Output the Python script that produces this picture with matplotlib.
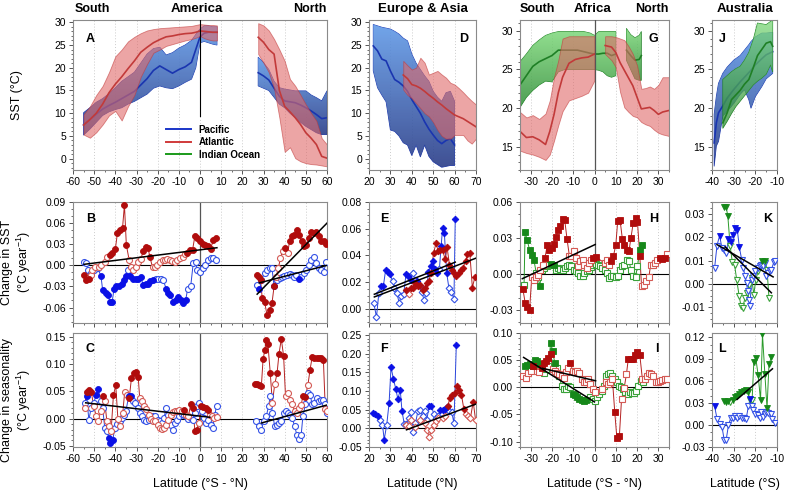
import numpy as np
import matplotlib
matplotlib.use('Agg')
import matplotlib.pyplot as plt
from matplotlib.colors import LinearSegmentedColormap
from matplotlib.patches import PathPatch
from matplotlib.lines import Line2D
from matplotlib.ticker import MultipleLocator, FormatStrFormatter

plt.rcParams['font.family'] = ['Liberation Sans', 'DejaVu Sans']
plt.rcParams['font.size'] = 7.5
plt.rcParams['axes.unicode_minus'] = False
plt.rcParams['mathtext.fontset'] = 'custom'
plt.rcParams['mathtext.rm'] = 'Liberation Sans'
plt.rcParams['mathtext.it'] = 'Liberation Sans:italic'

# ---------------- top row: SST bands (lat, low, mean, high) ----------------
a_pac_s_lat = [-55, -52, -49, -46, -43, -40, -37, -34, -31, -28, -25, -22, -19, -16, -13, -10, -7, -4, -2, 0, 2, 4, 6, 8]
a_pac_s_mid = [7.4, 8.6, 9.8, 10.9, 11.7, 12.4, 13.2, 14, 14.8, 16.2, 17.6, 19.4, 20.4, 19.6, 18.8, 19.6, 20.2, 21.2, 24, 26.8, 27.6, 27.8, 27.8, 27.8]
a_pac_s_lo = [5.2, 6.5, 8, 9.5, 10.3, 10.8, 11.2, 12, 12.6, 13.4, 14.2, 15.5, 16, 15.6, 15.4, 16, 16.8, 17.5, 20, 25.5, 25.8, 25.5, 25.2, 25]
a_pac_s_hi = [10.1, 11.2, 12.4, 13.2, 14.3, 15.6, 17, 18, 19, 21, 23, 24.2, 24.5, 22.8, 23.3, 24.3, 25, 26, 27.3, 28.5, 29.2, 29.2, 29, 29]

a_atl_s_lat = [-55, -52, -49, -46, -43, -40, -37, -34, -31, -28, -25, -22, -19, -16, -13, -10, -7, -4, -2, 0, 2, 4, 6, 8]
a_atl_s_mid = [7.4, 8.6, 10, 12, 14.5, 16.4, 18, 19.8, 21.5, 23.4, 24.5, 25.5, 26.2, 26.8, 27, 27.3, 27.5, 27.6, 27.8, 28.1, 28, 27.9, 27.8, 27.8]
a_atl_s_lo = [5.3, 4.6, 5.8, 7.5, 9.5, 10.5, 8.4, 11.5, 14, 18, 20.8, 23.3, 24, 24.8, 25.2, 25.6, 26, 26.3, 26.6, 27, 26.5, 26.2, 26, 26]
a_atl_s_hi = [9.7, 11.5, 14, 16, 19, 22.5, 24, 25.8, 26.8, 27.6, 28.2, 28.5, 28.7, 28.8, 28.9, 29, 29.1, 29.2, 29.4, 29.6, 29.5, 29.4, 29.4, 29.3]

a_pac_n_lat = [27.5, 30, 32.5, 35, 37.5, 40, 42.5, 45, 47.5, 50, 52.5, 55, 57.5, 60]
a_pac_n_mid = [18.9, 18.2, 17.3, 15.5, 13.7, 12.7, 12.5, 12.3, 11.8, 11.2, 10.5, 9.7, 8.8, 9]
a_pac_n_lo = [16, 15.5, 15, 13.5, 12, 11.2, 10, 9, 8, 7.1, 6.4, 5.7, 5.3, 5.3]
a_pac_n_hi = [22.3, 21.1, 19.6, 17, 15.6, 15.3, 15.1, 14.9, 14.9, 14.9, 14, 13.4, 12.7, 14.9]

a_atl_n_lat = [27.5, 30, 32.5, 35, 37.5, 40, 42.5, 45, 47.5, 50, 52.5, 55, 57.5, 60]
a_atl_n_mid = [26.7, 25.6, 24, 23, 15, 11.5, 10.3, 9, 7.5, 5.7, 4.5, 3.1, 0.5, 0.1]
a_atl_n_lo = [23, 21.1, 19, 15.5, 9, 1.5, 2.5, 0.1, -0.6, -1, -1.2, -1.3, -1.5, -1.7]
a_atl_n_hi = [29.8, 29.3, 28.2, 26.3, 24, 21.5, 17.5, 16, 14, 11.9, 10, 8.3, 4.5, 3.1]

d_asia_lat = [22, 24, 26, 28, 30, 32, 34, 36, 38, 40, 42, 44, 46, 48, 50, 52, 54, 56, 58, 60]
d_asia_mid = [24.8, 23.7, 21.9, 21.5, 19.3, 17.4, 16.8, 16, 14.8, 13, 11.5, 10, 8.1, 6.5, 5.2, 4, 3.3, 4, 4.4, 3]
d_asia_lo = [19.3, 15.6, 14, 12.5, 6.3, 6, 5, 3.5, 3, 0.7, 3, 0.4, 3, 0.5, -0.7, -1.3, -1.9, -1.7, -1.5, -1.5]
d_asia_hi = [29.5, 29.2, 28.9, 28.7, 28.5, 28, 27.4, 26.5, 25.9, 23, 21, 19.6, 18.2, 17, 14.8, 13.5, 12.6, 14.5, 14.8, 12.6]

d_eur_lat = [36, 38, 40, 42, 44, 46, 48, 50, 52, 54, 56, 58, 60, 62, 64, 66, 68, 70]
d_eur_mid = [18.4, 17.6, 16.3, 16, 15.5, 14.8, 14, 13.3, 12.5, 11.8, 11, 10.3, 9.6, 9.2, 8.8, 8.2, 7.6, 7]
d_eur_lo = [15.2, 14, 13.3, 12.2, 11.1, 10, 9.3, 8, 6.3, 5, 4.4, 4.4, 5.2, 5.2, 5.2, 4, 3.3, 4.4]
d_eur_hi = [21.5, 20.5, 19.6, 20, 22.2, 21.1, 18.5, 18.9, 19.3, 18.5, 17.8, 16.7, 16.3, 15.5, 14.6, 13.6, 12.7, 11.9]

g_ind1_lat = [-35, -32, -29, -26, -23, -20, -17, -14, -11, -8, -5, -2, 0, 2, 4, 6, 8, 10]
g_ind1_mid = [23, 24.2, 25.4, 26, 26.4, 26.8, 27.5, 27.5, 27.5, 27.5, 27.3, 27.1, 27, 27, 27.1, 27.1, 26.8, 27]
g_ind1_lo = [20.1, 21.4, 22.3, 23, 23.5, 23.4, 24.7, 25, 25, 25, 25, 25, 25, 24.9, 24.7, 24.2, 24, 24.2]
g_ind1_hi = [26, 27, 28.1, 28.8, 29.4, 29.7, 29.9, 29.9, 29.9, 29.9, 29.9, 29.7, 29.4, 29.9, 29.9, 29.9, 29.9, 29.9]

g_ind2_lat = [15, 17, 19, 21, 22]
g_ind2_mid = [27.5, 26.8, 26.2, 26.3, 26.8]
g_ind2_lo = [26.2, 25, 23.8, 23.6, 23.6]
g_ind2_hi = [30.3, 29.5, 29.1, 29.4, 29.9]

g_atl_s_lat = [-35, -32, -29, -26, -23, -21, -19, -17, -15, -12, -9, -6, -3, 0]
g_atl_s_mid = [17, 16.2, 16.3, 15.9, 15.3, 17, 19.2, 22, 24, 25.8, 26.3, 26.5, 26.6, 27]
g_atl_s_lo = [14.5, 14.2, 14, 13.7, 13.3, 14, 15.8, 17.8, 19.6, 21, 21.3, 21.6, 22, 23.6]
g_atl_s_hi = [19.5, 18.8, 19.1, 18.6, 19.3, 21, 24, 26.2, 29, 29.3, 29.3, 29.3, 29.3, 29.3]

g_atl_n_lat = [5, 8, 10, 12, 14, 16, 18, 20, 22, 24, 26, 28, 30, 32, 35]
g_atl_n_mid = [28.1, 27.9, 27.2, 25.9, 24.9, 23.9, 22.9, 21.4, 19.9, 20, 20.1, 19.7, 19.2, 19.5, 19.7]
g_atl_n_lo = [27, 26.2, 25.3, 22.1, 20.1, 19.5, 19, 18.8, 18.2, 17.9, 17.7, 17.2, 16.8, 16.6, 16.4]
g_atl_n_hi = [29.3, 29.3, 29.2, 29, 28.8, 28, 27, 25.5, 22.5, 22.6, 22.8, 22.5, 23, 24, 24]

j_pac_lat = [-39, -38, -37, -35, -33, -30, -27, -25, -23, -22, -20, -17, -15, -12]
j_pac_mid = [15.5, 18.1, 19.4, 20.3, 21.3, 22.4, 23.4, 24, 24.6, 24.9, 25.6, 26.4, 26.9, 27.3]
j_pac_lo = [12.5, 15.1, 15.7, 19, 19.6, 20.6, 21.8, 22.4, 21.1, 20, 21.5, 22.8, 23.8, 24.5]
j_pac_hi = [19.2, 21.5, 23.2, 24.5, 25.3, 26.2, 26.8, 27.5, 28.2, 28.6, 29.2, 29.7, 29.7, 29.8]

j_ind_lat = [-35, -33, -31, -29, -27, -25, -23, -21, -19, -17, -15, -13, -12]
j_ind_mid = [18.1, 19.4, 21.1, 21.7, 22.3, 23.1, 23.7, 25.2, 26.8, 27.6, 28.4, 28.6, 28]
j_ind_lo = [17.4, 18.3, 19.3, 20.2, 20.9, 21.6, 22.3, 23, 23.5, 23.9, 24.4, 25.6, 24.7]
j_ind_hi = [23.7, 24.2, 24.7, 25.1, 25.4, 26.2, 27.2, 28.8, 31, 30.9, 30.8, 31.2, 31.4]

# ---------------- middle row: change in SST (lat, value, significant) ----------------
b_atl_s_lat = [-54.8, -54, -52.4, -51.6, -50.8, -49.5, -47.9, -46.8, -45, -44, -42.6, -41.4, -40, -39, -38, -36.6, -35.7, -34.8, -33.5, -32.7, -31.6, -30.3, -29.2, -28, -26.8, -25.6, -24.5, -23.7, -22.4, -21.3, -20.2, -19, -17.7, -16.6, -15.5, -14.2, -13, -11.8, -10.7, -9.5, -8.2, -7.1, -6, -4.7, -3.5, -2.4, -1.3, 0, 1.3, 2.5, 3.8, 5, 6.3, 7.6]
b_atl_s_val = [-0.014, -0.021, -0.020, -0.014, -0.007, -0.002, -0.003, 0.000, 0.005, 0.012, 0.015, 0.017, 0.023, 0.046, 0.050, 0.053, 0.086, 0.029, 0.008, -0.002, -0.006, -0.002, 0.005, 0.009, 0.020, 0.026, 0.024, 0.012, -0.003, -0.002, 0.001, 0.005, 0.007, 0.008, 0.009, 0.008, 0.006, 0.005, 0.008, 0.010, 0.012, 0.016, 0.018, 0.022, 0.022, 0.042, 0.039, 0.034, 0.030, 0.029, 0.027, 0.023, 0.036, 0.039]
b_atl_s_sig = [1, 1, 1, 0, 0, 0, 0, 0, 0, 0, 1, 1, 1, 1, 1, 1, 1, 1, 0, 0, 0, 0, 0, 0, 1, 1, 1, 1, 0, 0, 0, 0, 0, 0, 0, 0, 0, 0, 0, 0, 0, 0, 1, 1, 1, 1, 1, 1, 1, 1, 1, 1, 1, 1]

b_pac_s_lat = [-55, -54, -52.7, -51.6, -50, -48.4, -46.8, -46, -44.5, -43.4, -42.6, -41.5, -40.6, -39.5, -38.2, -37, -36, -35, -34, -32.9, -31.6, -30.3, -29.2, -28, -26.8, -25.6, -24.5, -23.4, -22, -20.8, -19.7, -18.6, -17.4, -16, -15, -14, -12.6, -11.4, -10.3, -9.2, -7.9, -6.8, -5.8, -4.4, -3.2, -2, -1.3, 0, 1.3, 2.5, 3.8, 5, 6.3, 7.6]
b_pac_s_val = [0.005, 0.004, -0.007, -0.011, -0.007, -0.004, -0.015, -0.035, -0.040, -0.042, -0.052, -0.052, -0.033, -0.030, -0.029, -0.026, -0.021, -0.015, -0.007, -0.015, -0.019, -0.019, -0.019, -0.017, -0.028, -0.027, -0.026, -0.023, -0.021, -0.019, -0.019, -0.020, -0.021, -0.033, -0.040, -0.042, -0.052, -0.049, -0.045, -0.049, -0.054, -0.050, -0.033, -0.030, 0.003, 0.005, -0.007, -0.009, -0.004, 0.001, 0.008, 0.010, 0.011, 0.008]
b_pac_s_sig = [0, 0, 0, 0, 0, 0, 1, 1, 1, 1, 1, 1, 1, 1, 1, 1, 1, 1, 0, 1, 1, 1, 1, 1, 1, 1, 1, 1, 1, 0, 0, 0, 0, 1, 1, 1, 1, 1, 1, 1, 1, 1, 0, 0, 0, 0, 0, 0, 0, 0, 0, 0, 0, 0]

b_atl_n_lat = [26.7, 27.8, 28.6, 29.4, 30.5, 31.7, 33, 34, 35, 36, 37, 38, 39, 40.3, 41.4, 42.3, 43.4, 44.5, 45.8, 47, 48, 49.3, 50.2, 51.3, 52.4, 53.7, 55, 56, 57, 58.4, 59.7]
b_atl_n_val = [-0.014, -0.016, -0.021, -0.047, -0.052, -0.071, -0.064, -0.054, -0.030, -0.016, -0.004, 0.010, 0.020, 0.024, 0.017, 0.034, 0.041, 0.043, 0.050, 0.043, 0.034, 0.027, 0.029, 0.039, 0.048, 0.046, 0.048, 0.041, 0.035, 0.034, 0.031]
b_atl_n_sig = [1, 1, 1, 1, 1, 1, 1, 1, 1, 0, 0, 0, 0, 1, 0, 1, 1, 1, 1, 1, 1, 1, 1, 1, 1, 1, 1, 1, 1, 1, 1]

b_pac_n_lat = [27, 28, 29, 30.5, 31.7, 33, 34, 35, 36.3, 37.6, 38.7, 39.8, 41, 42.3, 43.4, 44.5, 45.5, 46.6, 47.7, 49, 50.2, 51.3, 52.4, 53.7, 55, 56, 57, 58.4, 59.7]
b_pac_n_val = [-0.028, -0.033, -0.021, -0.011, -0.007, -0.004, -0.004, -0.030, -0.021, -0.018, -0.017, -0.015, -0.014, -0.012, -0.014, -0.016, -0.014, -0.019, -0.016, -0.011, -0.007, 0.000, 0.008, 0.012, 0.003, -0.004, -0.007, -0.009, 0.005]
b_pac_n_sig = [0, 1, 0, 0, 0, 0, 0, 1, 0, 0, 0, 0, 0, 0, 0, 0, 0, 1, 0, 0, 0, 0, 0, 0, 0, 0, 0, 0, 0]

b_trend_s_lat, b_trend_s_val = [-54.8, 8], [0.0014, 0.025]
b_trend_na_lat, b_trend_na_val = [27, 60], [-0.041, 0.060]
b_trend_np_lat, b_trend_np_val = [28, 60], [-0.025, 0.0]

e_asia_lat = [22.2, 23.5, 24.6, 25.6, 26.7, 27.8, 28.7, 29.8, 31, 31.9, 33, 34.1, 35, 36.2, 37.3, 38.3, 39.4, 40.5, 41.4, 42.5, 43.7, 44.6, 45.7, 46.8, 47.8, 48.9, 49.7, 50.8, 51.7, 52.9, 53.7, 54.4, 55.2, 56.3, 57.3, 58.4, 59.7, 60.3]
e_asia_val = [0.0045, -0.006, 0.012, 0.017, 0.017, 0.0295, 0.028, 0.026, 0.021, 0.016, 0.012, 0.0045, 0.0095, 0.011, 0.026, 0.025, 0.022, 0.027, 0.022, 0.021, 0.017, 0.013, 0.007, 0.012, 0.028, 0.032, 0.036, 0.030, 0.027, 0.030, 0.047, 0.0605, 0.057, 0.027, 0.016, 0.013, 0.0075, 0.0673]
e_asia_sig = [0, 0, 0, 1, 1, 1, 1, 1, 0, 0, 0, 0, 0, 0, 1, 1, 1, 0, 0, 1, 0, 0, 0, 0, 1, 1, 1, 1, 1, 0, 1, 1, 1, 1, 0, 0, 0, 1]

e_eur_lat = [37.5, 38.6, 39.7, 40.6, 41.7, 42.9, 43.8, 45, 46, 47, 48, 49, 50.2, 51.3, 52.4, 53.3, 54.4, 55.6, 56.5, 57.6, 58.7, 59.7, 60.8, 61.9, 62.9, 64, 65.1, 66, 67.1, 68.3, 69.5]
e_eur_val = [0.0145, 0.011, 0.016, 0.016, 0.0195, 0.017, 0.018, 0.0145, 0.016, 0.0195, 0.021, 0.027, 0.042, 0.049, 0.043, 0.044, 0.044, 0.037, 0.046, 0.033, 0.0295, 0.027, 0.025, 0.027, 0.0295, 0.031, 0.036, 0.041, 0.042, 0.016, 0.024]
e_eur_sig = [1, 0, 1, 1, 1, 1, 1, 1, 1, 1, 1, 1, 1, 1, 1, 1, 1, 1, 1, 1, 1, 1, 1, 1, 1, 1, 1, 1, 1, 1, 1]

e_trend_a_lat, e_trend_a_val = [22.5, 60.3], [0.011, 0.035]
e_trend_e_lat, e_trend_e_val = [22.5, 70], [0.009, 0.038]

h_ind_lat = [-33.1, -32.6, -31.6, -30.5, -29.5, -28.5, -27.4, -26.6, -25.7, -24.6, -23.5, -22.5, -21.5, -20.4, -19.1, -18, -17.1, -16, -14.9, -14, -12.9, -11.8, -10.9, -9.8, -8.7, -7.8, -6.7, -5.6, -4.7, -3.6, -2.5, -1.6, -0.5, 0.6, 1.6, 2.6, 3.7, 4.7, 5.8, 6.8, 7.8, 8.9, 10, 10.9, 12, 13.1, 14, 15.1, 16.2, 17.1, 18.2, 19.3, 20.2, 21.3, 22.4]
h_ind_val = [-0.0095, 0.035, 0.028, 0.020, 0.016, 0.012, 0.001, -0.003, -0.0097, 0.0036, 0.005, 0.0064, 0.007, 0.0086, 0.0078, 0.0036, 0.005, 0.0042, 0.0036, 0.005, 0.0064, 0.0078, 0.0064, 0.0036, 0.0022, 0.0008, -0.0014, -0.002, 0.0008, 0.0022, 0.0036, 0.0058, 0.0078, 0.0086, 0.0078, 0.0064, 0.005, 0.0036, 0.0008, -0.0033, -0.002, -0.0014, -0.0025, -0.0014, 0.0036, 0.0064, 0.0078, 0.012, 0.0106, 0.0036, -0.002, -0.0025, 0.0064, 0.020, 0.024]
h_ind_sig = [0, 1, 1, 1, 1, 1, 0, 0, 1, 0, 0, 0, 0, 1, 1, 0, 0, 0, 0, 0, 0, 0, 0, 0, 0, 0, 0, 0, 0, 0, 0, 0, 0, 0, 0, 0, 0, 0, 0, 0, 0, 0, 0, 0, 0, 0, 0, 0, 0, 0, 0, 0, 0, 1, 1]

h_atl_lat = [-33.6, -32.6, -31.6, -30.5, -29.5, -28.5, -27.4, -26.4, -25.4, -24.3, -23.3, -22.2, -21.2, -20.2, -19.1, -18, -17.1, -16, -14.9, -14, -12.9, -11.8, -10.9, -9.8, -8.7, -7.8, -6.7, -5.6, -4.7, -3.6, -2.5, -1.6, -0.5, 0.6, 4.7, 5.8, 6.8, 7.8, 8.9, 10, 10.9, 12, 13.1, 14, 15.1, 16.2, 17.1, 18.2, 19.3, 20.2, 21.3, 22.1, 23.3, 24.4, 25.5, 26.4, 27.5, 28.6, 29.5, 30.6, 31.7, 33, 34.2]
h_atl_val = [-0.013, -0.024, -0.028, -0.030, -0.003, -0.0047, -0.003, -0.0006, 0.0036, 0.0078, 0.013, 0.024, 0.020, 0.022, 0.025, 0.031, 0.037, 0.040, 0.046, 0.045, 0.029, 0.015, 0.015, 0.019, 0.013, 0.0064, 0.0106, 0.012, 0.0078, 0.005, 0.0092, 0.012, 0.013, 0.014, 0.0092, 0.0114, 0.007, 0.0106, 0.015, 0.024, 0.044, 0.045, 0.029, 0.024, 0.020, 0.019, 0.030, 0.0425, 0.047, 0.043, 0.0147, -0.010, -0.009, -0.006, -0.003, 0.0078, 0.0078, 0.0092, 0.0114, 0.013, 0.0125, 0.013, 0.017]
h_atl_sig = [1, 1, 1, 1, 0, 0, 0, 0, 0, 0, 1, 1, 1, 1, 1, 1, 1, 1, 1, 1, 1, 0, 0, 0, 0, 0, 0, 0, 0, 0, 0, 0, 1, 1, 0, 0, 0, 1, 1, 1, 1, 1, 1, 1, 1, 1, 1, 1, 1, 1, 1, 0, 0, 0, 0, 0, 0, 0, 0, 1, 1, 1, 0]

h_trend_lat, h_trend_val = [-33.9, 0.3], [-0.004, 0.0245]

k_pac_lat = [-38.8, -37.7, -36.5, -35.4, -34.4, -33.5, -32.4, -31.3, -30.4, -29.3, -28.3, -27.4, -26.3, -25.5, -24.8, -24, -23.6, -23, -22.5, -21.7, -21, -20, -19, -17.9, -17.2, -16.4, -15.6, -14.9, -14.1, -13.3, -12.6, -11.5, -10.8]
k_pac_val = [0.0068, 0.0164, 0.0206, 0.0154, 0.0147, 0.0132, 0.019, 0.018, 0.021, 0.024, 0.023, 0.0158, 0.0104, 0.0068, 0.0033, 0.0004, -0.003, -0.0067, -0.0095, 0.0018, 0.0033, 0.0054, 0.0068, 0.0075, 0.0082, 0.0075, 0.0089, 0.0033, 0.0047, 0.0054, 0.0061, 0.0092, 0.010]
k_pac_sig = [0, 0, 1, 0, 0, 0, 1, 1, 1, 1, 1, 1, 0, 0, 0, 0, 0, 0, 0, 0, 0, 0, 0, 0, 0, 0, 0, 0, 0, 0, 0, 0, 0]

k_ind_lat = [-34.4, -33.5, -32.7, -31.6, -30.6, -29.6, -28.6, -27.5, -26.6, -25.8, -24.8, -23.7, -22.8, -21.7, -20.7, -19.8, -18.7, -17.6, -16.7, -15.6, -14.6, -13.7]
k_ind_val = [0.033, 0.033, 0.029, 0.016, 0.0092, 0.0082, 0.0018, -0.005, -0.0095, -0.0102, -0.006, -0.0038, -0.0003, 0.0025, -0.0046, 0.0018, 0.0054, 0.0075, 0.010, 0.010, 0.0061, -0.006]
k_ind_sig = [1, 1, 1, 0, 0, 0, 0, 0, 0, 0, 0, 0, 0, 0, 0, 0, 0, 0, 1, 1, 0, 0]

k_trend_p_lat, k_trend_p_val = [-37.7, -11.8], [0.0168, 0.003]
k_trend_i_lat, k_trend_i_val = [-33.9, -12.6], [0.0158, -0.0038]

# ---------------- bottom row: change in seasonality ----------------
c_atl_s_lat = [-54.5, -53.6, -52.5, -51.4, -50.2, -49, -48, -47, -46, -45, -44, -43, -42, -40.9, -39.8, -38.8, -37.6, -36.5, -35.6, -34.5, -33.4, -32.4, -31.3, -30.2, -29.2, -28.5, -27.4, -26.3, -25.4, -24.3, -23.2, -22.3, -21.2, -20, -19, -18, -17, -16, -14.9, -13.8, -12.9, -11.8, -10.7, -9.7, -8.6, -7.5, -6.6, -5.5, -4.4, -3.4, -2.4, -1.6, -0.5, 0.5, 1.6, 2.7, 3.6, 4.7, 5.8, 6.7, 7.8]
c_atl_s_val = [0.020, 0.048, 0.052, 0.049, 0.023, 0.004, -0.005, 0.014, 0.041, 0.032, -0.005, -0.014, -0.023, 0.043, 0.061, 0.000, -0.014, 0.010, 0.048, 0.044, 0.038, 0.074, 0.083, 0.086, 0.077, 0.038, 0.032, 0.023, 0.017, 0.007, 0.000, -0.004, -0.005, -0.011, -0.017, -0.019, -0.017, -0.011, -0.002, 0.007, 0.012, 0.014, 0.014, 0.015, 0.014, 0.015, 0.007, 0.004, 0.026, 0.020, -0.023, -0.020, -0.008, 0.023, 0.022, 0.020, 0.015, 0.007, 0.004, 0.001, 0.003]
c_atl_s_sig = [0, 1, 1, 1, 0, 0, 0, 0, 1, 0, 0, 0, 0, 1, 1, 0, 0, 0, 0, 0, 1, 1, 1, 1, 1, 0, 0, 0, 0, 0, 0, 0, 0, 0, 0, 0, 0, 0, 0, 0, 0, 0, 0, 0, 0, 1, 0, 0, 1, 1, 1, 1, 0, 1, 1, 1, 1, 0, 0, 0, 0]

c_pac_s_lat = [-54.4, -53.6, -52.5, -51.4, -50.2, -49, -48, -47, -46, -45, -44, -43.1, -42.3, -41.2, -40.3, -39.2, -38, -37, -36, -35, -33.7, -32.6, -31.7, -30.6, -29.5, -28.5, -27.4, -26.3, -25.4, -24.3, -23.2, -22.3, -21.2, -20, -19, -18, -17, -16, -14.9, -13.8, -12.9, -11.8, -10.7, -9.7, -8.6, -7.5, -6.6, -5.5, -4.4, -3.4, -2.4, -1.3, -0.3, 0.8, 1.9, 2.8, 3.9, 5, 6, 7, 7.8]
c_pac_s_val = [0.029, 0.041, -0.002, 0.020, 0.029, 0.044, 0.054, 0.032, 0.020, -0.017, -0.023, -0.035, -0.045, -0.040, -0.017, -0.010, -0.005, 0.001, 0.007, 0.014, 0.041, 0.041, 0.032, 0.029, 0.020, 0.010, 0.004, -0.002, -0.005, -0.002, 0.001, 0.004, 0.004, -0.002, -0.005, -0.008, 0.001, 0.020, 0.007, -0.011, -0.020, -0.008, -0.002, 0.004, 0.009, 0.007, 0.004, 0.000, 0.001, -0.002, 0.010, 0.023, 0.029, 0.014, 0.001, -0.008, -0.002, -0.011, -0.017, 0.007, 0.023]
c_pac_s_sig = [0, 1, 0, 0, 0, 1, 1, 0, 0, 0, 0, 1, 1, 1, 0, 0, 0, 0, 0, 0, 1, 1, 0, 0, 0, 0, 0, 0, 0, 0, 0, 0, 0, 0, 0, 0, 0, 0, 0, 0, 0, 0, 0, 0, 0, 0, 0, 0, 0, 0, 0, 0, 0, 0, 0, 0, 0, 0, 0, 0, 0]

c_atl_n_lat = [25.9, 27, 27.9, 29, 29.8, 30.6, 31.3, 32.1, 33.2, 34.2, 35.3, 36.4, 37.3, 38.4, 39.5, 40.4, 41.5, 42.6, 43.6, 44.7, 45.8, 46.7, 47.8, 48.6, 49.8, 51, 52, 53, 54, 55.2, 56.1, 57.2, 58.3, 59.2, 59.9]
c_atl_n_val = [0.064, 0.063, 0.061, 0.060, 0.109, 0.125, 0.145, 0.136, 0.083, 0.029, 0.063, 0.083, 0.118, 0.146, 0.115, 0.041, 0.047, 0.035, 0.026, 0.014, 0.010, 0.020, 0.025, 0.041, 0.040, 0.062, 0.090, 0.113, 0.112, 0.112, 0.112, 0.111, 0.107, 0.017, 0.014]
c_atl_n_sig = [1, 1, 1, 1, 1, 1, 1, 1, 1, 0, 0, 1, 1, 1, 1, 0, 0, 0, 0, 0, 0, 0, 0, 1, 1, 0, 1, 1, 1, 1, 1, 1, 1, 0, 0]

c_pac_n_lat = [26.6, 27.9, 29, 30.1, 31.3, 32.4, 33.2, 34.2, 35.3, 36.4, 37.3, 38.4, 39.5, 40.4, 41.5, 42.6, 43.6, 44.7, 45.8, 46.7, 47.8, 48.6, 49.8, 51, 52, 53, 54, 55.2, 56.1, 57.2, 58.3, 59.2, 59.9]
c_pac_n_val = [-0.005, -0.014, -0.020, -0.005, 0.004, 0.023, 0.041, 0.010, -0.014, -0.011, -0.008, -0.005, 0.010, 0.014, 0.010, 0.007, 0.001, -0.014, -0.030, -0.037, -0.030, 0.004, 0.026, 0.047, 0.044, 0.026, 0.029, 0.038, 0.032, 0.035, 0.035, 0.026, 0.010]
c_pac_n_sig = [0] * 33

c_trend_s_lat, c_trend_s_val = [-54, 4.7], [0.029, 0.0025]
c_trend_n_lat, c_trend_n_val = [29, 60], [-0.008, 0.025]

f_asia_lat = [21.9, 23, 24, 25.1, 26.3, 27.1, 28.3, 29.4, 30.3, 31.4, 32.5, 33.5, 34.6, 35.4, 36.5, 37.5, 38.6, 39.7, 40.6, 41.7, 42.9, 43.8, 45, 46, 47, 48.1, 49.2, 50.2, 51.3, 52.4, 53.3, 54.4, 55.6, 56.5, 57.6, 58.7, 59.7, 60.8]
f_asia_val = [0.041, 0.039, 0.034, 0.023, 0.009, -0.030, 0.010, 0.069, 0.164, 0.132, 0.106, 0.078, 0.103, 0.047, 0.011, 0.011, 0.028, 0.043, -0.009, 0.013, 0.047, 0.050, 0.034, 0.045, 0.022, 0.060, 0.060, 0.039, 0.028, 0.032, 0.049, 0.049, 0.052, 0.058, 0.047, 0.043, 0.013, 0.224]
f_asia_sig = [1, 1, 1, 0, 0, 1, 0, 1, 1, 1, 1, 1, 1, 1, 0, 0, 0, 0, 0, 0, 0, 0, 0, 0, 0, 1, 1, 0, 0, 0, 1, 1, 1, 1, 0, 0, 0, 1]

f_eur_lat = [37.5, 38.6, 39.7, 41.7, 43.8, 46, 47, 48.1, 49.2, 50.2, 51.3, 52.4, 54.4, 55.6, 56.8, 57.9, 58.9, 60, 61.1, 62, 63.2, 64.3, 65.2, 66.3, 67.4, 68.7, 69.8]
f_eur_val = [0.010, 0.006, 0.022, 0.004, 0.022, 0.013, -0.004, -0.023, -0.004, 0.009, 0.020, 0.028, 0.028, 0.034, 0.060, 0.082, 0.090, 0.095, 0.112, 0.103, 0.090, 0.052, 0.039, 0.032, 0.028, 0.071, 0.022]
f_eur_sig = [0, 0, 0, 0, 0, 0, 0, 0, 0, 0, 0, 0, 0, 0, 1, 1, 1, 1, 1, 1, 1, 1, 0, 0, 0, 1, 0]

f_trend_lat, f_trend_val = [37.5, 70], [-0.004, 0.065]

i_ind_lat = [-32.6, -31.5, -30.3, -29, -27.9, -26.8, -25.9, -24.8, -23.7, -22.8, -21.7, -20.6, -19.7, -18.6, -17.5, -16.6, -15.5, -14.4, -13.5, -12.4, -11.3, -10.3, -9.2, -8.1, -7.2, -6.1, -5, -4.1, -3, -1.9, -0.9, 0.2, 1.2, 2.2, 3.3, 4.3, 5.3, 6.4, 7.5, 8.4, 9.5, 10.5, 11.4, 12.5, 13.6, 14.5, 15.6, 16.7, 17.6, 18.7, 19.7, 20.6, 21.7, 22.7]
i_ind_val = [0.039, 0.041, 0.042, 0.039, 0.051, 0.048, 0.042, 0.030, 0.027, 0.033, 0.039, 0.082, 0.066, 0.044, 0.036, 0.021, 0.003, -0.004, -0.003, 0.003, 0.000, -0.012, -0.015, -0.018, -0.021, -0.024, -0.025, -0.024, -0.021, -0.018, -0.021, -0.026, -0.018, -0.012, -0.006, 0.003, 0.021, 0.025, 0.026, 0.021, 0.016, 0.009, 0.003, 0.000, -0.003, -0.009, -0.012, -0.008, -0.011, -0.010, -0.006, 0.003, 0.012, 0.009]
i_ind_sig = [1, 1, 1, 1, 1, 1, 1, 0, 0, 0, 0, 1, 1, 1, 0, 0, 0, 0, 0, 0, 0, 1, 1, 1, 1, 1, 1, 1, 0, 0, 0, 0, 0, 0, 0, 0, 0, 0, 0, 0, 0, 0, 0, 0, 0, 0, 0, 0, 0, 0, 0, 0, 0, 0]

i_atl_lat = [-33.4, -32.2, -31.1, -30, -29, -27.9, -26.8, -25.9, -24.8, -23.7, -22.8, -21.7, -20.6, -19.7, -18.6, -17.5, -16.6, -15.5, -14.4, -13.5, -12.4, -11.3, -10.3, -9.2, -8.1, -7.2, -6.1, -5, -4.1, -3, -1.9, -0.9, 0.2, 3.3, 5.3, 6.4, 7.5, 8.4, 9.5, 10.5, 11.7, 12.7, 13.9, 15, 15.9, 17, 18, 19.2, 20.2, 21.3, 22.5, 23.6, 24.5, 25.6, 26.7, 27.6, 28.7, 29.8, 30.7, 31.8, 32.9, 33.9]
i_atl_val = [0.021, 0.018, 0.027, 0.030, 0.039, 0.039, 0.030, 0.028, 0.036, 0.045, 0.048, 0.054, 0.062, 0.033, 0.030, 0.027, 0.024, 0.021, 0.018, 0.028, 0.036, 0.045, 0.030, 0.028, 0.030, 0.027, 0.015, 0.010, 0.009, 0.015, 0.006, -0.003, -0.009, -0.003, 0.009, 0.006, 0.009, 0.016, -0.045, -0.093, -0.089, -0.022, -0.002, 0.024, 0.053, 0.052, 0.053, 0.060, 0.065, 0.059, 0.015, 0.015, 0.021, 0.027, 0.024, 0.020, 0.009, 0.009, 0.012, 0.014, 0.015, 0.016]
i_atl_sig = [0, 0, 0, 0, 1, 0, 0, 0, 1, 1, 1, 1, 1, 0, 0, 0, 0, 0, 0, 0, 0, 1, 0, 0, 0, 0, 0, 0, 0, 0, 0, 0, 0, 0, 0, 0, 0, 0, 1, 1, 1, 0, 0, 0, 1, 1, 1, 1, 1, 1, 0, 0, 0, 0, 0, 0, 0, 0, 0, 0, 0, 0]

i_trend_i_lat, i_trend_i_val = [-33.3, 0], [0.055, -0.027]
i_trend_a_lat, i_trend_a_val = [-24.5, 0.5], [0.035, 0.012]

l_pac_lat = [-38.8, -37.7, -36.5, -35.4, -34.4, -33.5, -32.4, -31.3, -30.4, -29.3, -28.3, -27.4, -26.3, -25.2, -24.3, -23.2, -22.4, -21.7, -21, -20, -19, -17.9, -17.2, -16.4, -15.6, -14.9, -14.1, -13, -12.1, -11.1]
l_pac_val = [0.0257, 0.009, 0.0014, -0.002, -0.020, -0.021, 0.000, 0.010, 0.010, 0.012, 0.010, 0.012, 0.010, 0.010, 0.0077, 0.0257, 0.036, 0.0257, 0.020, 0.0158, 0.0135, 0.010, 0.018, 0.011, 0.0158, 0.018, 0.0167, 0.0158, 0.009, 0.0023]
l_pac_sig = [1, 0, 0, 0, 0, 0, 0, 0, 0, 0, 0, 0, 0, 0, 0, 0, 1, 0, 0, 0, 0, 0, 0, 0, 0, 0, 0, 0, 0, 0]

l_ind_lat = [-34.6, -33.5, -32.6, -31.5, -30.5, -29.5, -28.5, -27.4, -26.5, -25.4, -24.3, -23.4, -22.4, -21.5, -20.7, -19.8, -18.7, -17.6, -16.7, -15.6, -14.6, -13.7, -12.6]
l_ind_val = [0.033, 0.032, 0.033, 0.0316, 0.034, 0.038, 0.040, 0.043, 0.045, 0.047, 0.048, 0.045, 0.034, 0.034, 0.086, 0.092, 0.068, 0.034, 0.124, 0.070, 0.023, 0.083, 0.093]
l_ind_sig = [1, 1, 1, 0, 1, 1, 1, 1, 1, 1, 1, 1, 0, 0, 1, 1, 1, 1, 1, 1, 1, 1, 1]

l_trend_lat, l_trend_val = [-28.5, -12.1], [0.035, 0.077]

# ---------------- styling ----------------
RED = dict(dark='#b00c0c', light='#d45a55', line='#b52222')
BLUE = dict(dark='#0a10e6', light='#3552e6', line='#2a45dc')
GREEN = dict(dark='#16881a', light='#3aa23a', line='#2a9a2a')

fig = plt.figure(figsize=(7.88, 4.96), dpi=100)


def mk(x0, w, y0, y1):
    return fig.add_axes([x0 / 788, 1 - y1 / 496, w / 788, (y1 - y0) / 496])


cols = [(73, 254), (369, 107), (520, 149), (712, 65)]
rows = [(20, 170), (202, 323), (333, 447)]
axs = [[mk(c[0], c[1], r[0], r[1]) for c in cols] for r in rows]

xlims = [(-60, 60), (20, 70), (-35, 35), (-40, -10)]
xmaj = [np.arange(-60, 61, 10), np.arange(20, 71, 10), np.arange(-30, 31, 10), np.arange(-40, -9, 10)]

for ri, row in enumerate(axs):
    for ci, ax in enumerate(row):
        for s in ax.spines.values():
            s.set_color('#8a8a8a')
            s.set_linewidth(0.8)
        ax.set_xlim(*xlims[ci])
        ax.set_xticks(xmaj[ci])
        ax.xaxis.set_minor_locator(MultipleLocator(5))
        ax.tick_params(which='major', direction='out', length=3, width=0.7, color='#555555', labelsize=7.5, pad=2)
        ax.tick_params(which='minor', direction='out', length=1.6, width=0.6, color='#555555')
        ax.grid(axis='x', which='major', ls=(0, (1, 2)), color='#cccccc', lw=0.7)
        ax.set_axisbelow(True)
        if ri == 1:
            ax.tick_params(labelbottom=False)


def band(ax, lat, lo, hi, mid, cols, line, alpha, z):
    lat = np.asarray(lat, float)
    if len(cols) == 1:
        ax.fill_between(lat, lo, hi, facecolor=cols[0], edgecolor=line, lw=0.6, alpha=alpha, zorder=z)
    else:
        poly = ax.fill_between(lat, lo, hi, facecolor='none', edgecolor=line, lw=0.6, zorder=z)
        cmap = LinearSegmentedColormap.from_list('g', cols)
        patch = PathPatch(poly.get_paths()[0], transform=ax.transData, facecolor='none', edgecolor='none')
        im = ax.imshow(np.linspace(0, 1, 128).reshape(-1, 1), cmap=cmap, origin='lower', aspect='auto',
                       extent=[lat.min(), lat.max(), min(lo), max(hi)], alpha=alpha, zorder=z)
        im.set_clip_path(patch)
    ax.plot(lat, mid, color=line, lw=1.2, zorder=z + 0.1)


def series(ax, lat, val, sig, marker, c, ms):
    lat = np.asarray(lat, float)
    val = np.asarray(val, float)
    sig = np.asarray(sig, bool)
    ax.plot(lat, val, color=c['line'], lw=0.7, zorder=3)
    ax.plot(lat[~sig], val[~sig], ls='none', marker=marker, ms=ms, mfc='white', mec=c['light'], mew=0.8, zorder=4)
    ax.plot(lat[sig], val[sig], ls='none', marker=marker, ms=ms, mfc=c['dark'], mec=c['dark'], mew=0.6, zorder=5)


def trend(ax, x, y):
    ax.plot(x, y, color='black', lw=1.1, zorder=6)


BLUE_G = ['#2a3d88', '#629be8']
GREEN_G = ['#2f8e36', '#7dd87a']
RED_F = ['#e06a6a']

# --- A
ax = axs[0][0]
band(ax, a_pac_s_lat, a_pac_s_lo, a_pac_s_hi, a_pac_s_mid, BLUE_G, '#1a35b0', 0.9, 1)
band(ax, a_pac_n_lat, a_pac_n_lo, a_pac_n_hi, a_pac_n_mid, BLUE_G, '#1a35b0', 0.9, 1)
band(ax, a_atl_s_lat, a_atl_s_lo, a_atl_s_hi, a_atl_s_mid, RED_F, '#c23a3a', 0.6, 2)
band(ax, a_atl_n_lat, a_atl_n_lo, a_atl_n_hi, a_atl_n_mid, RED_F, '#c23a3a', 0.6, 2)
ylo, yhi = -2.5, 30.5
ax.set_ylim(ylo, yhi)
ax.axvline(0, ymin=(9.4 - ylo) / (yhi - ylo), ymax=1, color='black', lw=0.8, zorder=3)
handles = [Line2D([], [], color='#1a35c8', lw=1.4), Line2D([], [], color='#d03a3a', lw=1.4),
           Line2D([], [], color='#1a9a1a', lw=1.4)]
ax.legend(handles, ['Pacific', 'Atlantic', 'Indian Ocean'], loc='upper left', bbox_to_anchor=(0.33, 0.36),
          frameon=False, handlelength=2.6, labelspacing=0.25, prop={'weight': 'bold', 'size': 7})

# --- D
ax = axs[0][1]
band(ax, d_asia_lat, d_asia_lo, d_asia_hi, d_asia_mid, BLUE_G, '#1a35b0', 0.9, 1)
band(ax, d_eur_lat, d_eur_lo, d_eur_hi, d_eur_mid, RED_F, '#c23a3a', 0.6, 2)
ax.set_ylim(-2.5, 30.5)

# --- G
ax = axs[0][2]
band(ax, g_ind1_lat, g_ind1_lo, g_ind1_hi, g_ind1_mid, GREEN_G, '#1f7f25', 0.85, 1)
band(ax, g_ind2_lat, g_ind2_lo, g_ind2_hi, g_ind2_mid, GREEN_G, '#1f7f25', 0.85, 1)
band(ax, g_atl_s_lat, g_atl_s_lo, g_atl_s_hi, g_atl_s_mid, RED_F, '#c23a3a', 0.6, 2)
band(ax, g_atl_n_lat, g_atl_n_lo, g_atl_n_hi, g_atl_n_mid, RED_F, '#c23a3a', 0.6, 2)
ax.set_ylim(12, 31.4)
ax.axvline(0, color='#555555', lw=0.9, zorder=3)

# --- J
ax = axs[0][3]
band(ax, j_pac_lat, j_pac_lo, j_pac_hi, j_pac_mid, BLUE_G, '#1a35b0', 0.9, 1)
band(ax, j_ind_lat, j_ind_lo, j_ind_hi, j_ind_mid, GREEN_G, '#1f7f25', 0.75, 2)
ax.set_ylim(12, 31.4)

for ci, ax in enumerate(axs[0]):
    ax.set_xlim(*xlims[ci])
axs[0][0].set_yticks(np.arange(0, 31, 5))
axs[0][1].set_yticks(np.arange(0, 31, 5))
axs[0][2].set_yticks(np.arange(15, 31, 5))
axs[0][3].set_yticks(np.arange(15, 31, 5))
for ax in axs[0]:
    ax.yaxis.set_minor_locator(MultipleLocator(1))

# --- B
ax = axs[1][0]
series(ax, b_pac_s_lat, b_pac_s_val, b_pac_s_sig, 'o', BLUE, 4.3)
series(ax, b_atl_s_lat, b_atl_s_val, b_atl_s_sig, 'o', RED, 4.3)
series(ax, b_pac_n_lat, b_pac_n_val, b_pac_n_sig, 'o', BLUE, 4.3)
series(ax, b_atl_n_lat, b_atl_n_val, b_atl_n_sig, 'o', RED, 4.3)
trend(ax, b_trend_s_lat, b_trend_s_val)
trend(ax, b_trend_na_lat, b_trend_na_val)
trend(ax, b_trend_np_lat, b_trend_np_val)
ax.set_ylim(-0.082, 0.09)
ax.set_yticks(np.arange(-0.06, 0.091, 0.03))
ax.yaxis.set_minor_locator(MultipleLocator(0.01))

# --- E
ax = axs[1][1]
series(ax, e_asia_lat, e_asia_val, e_asia_sig, 'D', BLUE, 3.4)
series(ax, e_eur_lat, e_eur_val, e_eur_sig, 'D', RED, 3.4)
trend(ax, e_trend_a_lat, e_trend_a_val)
trend(ax, e_trend_e_lat, e_trend_e_val)
ax.set_ylim(-0.0105, 0.08)
ax.set_yticks(np.arange(0, 0.081, 0.02))
ax.yaxis.set_minor_locator(MultipleLocator(0.005))

# --- H
ax = axs[1][2]
series(ax, h_ind_lat, h_ind_val, h_ind_sig, 's', GREEN, 3.8)
series(ax, h_atl_lat, h_atl_val, h_atl_sig, 's', RED, 3.8)
trend(ax, h_trend_lat, h_trend_val)
ax.set_ylim(-0.041, 0.06)
ax.set_yticks(np.arange(-0.03, 0.061, 0.03))
ax.yaxis.set_minor_locator(MultipleLocator(0.01))

# --- K
ax = axs[1][3]
series(ax, k_ind_lat, k_ind_val, k_ind_sig, 'v', GREEN, 4.3)
series(ax, k_pac_lat, k_pac_val, k_pac_sig, 'v', BLUE, 4.3)
trend(ax, k_trend_p_lat, k_trend_p_val)
trend(ax, k_trend_i_lat, k_trend_i_val)
ax.set_ylim(-0.0167, 0.035)
ax.set_yticks(np.arange(-0.01, 0.031, 0.01))
ax.yaxis.set_minor_locator(MultipleLocator(0.0025))

# --- C
ax = axs[2][0]
series(ax, c_pac_s_lat, c_pac_s_val, c_pac_s_sig, 'o', BLUE, 4.3)
series(ax, c_atl_s_lat, c_atl_s_val, c_atl_s_sig, 'o', RED, 4.3)
series(ax, c_pac_n_lat, c_pac_n_val, c_pac_n_sig, 'o', BLUE, 4.3)
series(ax, c_atl_n_lat, c_atl_n_val, c_atl_n_sig, 'o', RED, 4.3)
trend(ax, c_trend_s_lat, c_trend_s_val)
trend(ax, c_trend_n_lat, c_trend_n_val)
ax.set_ylim(-0.052, 0.157)
ax.set_yticks(np.arange(-0.05, 0.151, 0.05))
ax.yaxis.set_minor_locator(MultipleLocator(0.01))

# --- F
ax = axs[2][1]
series(ax, f_asia_lat, f_asia_val, f_asia_sig, 'D', BLUE, 3.4)
series(ax, f_eur_lat, f_eur_val, f_eur_sig, 'D', RED, 3.4)
trend(ax, f_trend_lat, f_trend_val)
ax.set_ylim(-0.05, 0.255)
ax.set_yticks(np.arange(-0.05, 0.251, 0.05))
ax.yaxis.set_minor_locator(MultipleLocator(0.01))

# --- I
ax = axs[2][2]
series(ax, i_ind_lat, i_ind_val, i_ind_sig, 's', GREEN, 3.8)
series(ax, i_atl_lat, i_atl_val, i_atl_sig, 's', RED, 3.8)
trend(ax, i_trend_i_lat, i_trend_i_val)
trend(ax, i_trend_a_lat, i_trend_a_val)
ax.set_ylim(-0.11, 0.10)
ax.set_yticks(np.arange(-0.10, 0.101, 0.05))
ax.yaxis.set_minor_locator(MultipleLocator(0.01))

# --- L
ax = axs[2][3]
series(ax, l_ind_lat, l_ind_val, l_ind_sig, 'v', GREEN, 4.3)
series(ax, l_pac_lat, l_pac_val, l_pac_sig, 'v', BLUE, 4.3)
trend(ax, l_trend_lat, l_trend_val)
ax.set_ylim(-0.03, 0.126)
ax.set_yticks(np.arange(-0.03, 0.121, 0.03))
ax.yaxis.set_minor_locator(MultipleLocator(0.01))

for row in axs[1:]:
    for ax in row:
        ax.axhline(0, color='black', lw=0.8, zorder=2)
        ax.yaxis.set_major_formatter(FormatStrFormatter('%.2f'))
for ax in [axs[1][0], axs[2][0], axs[1][2], axs[2][2]]:
    ax.axvline(0, color='#555555', lw=0.9, zorder=2)

# panel letters
letters = [['A', 'D', 'G', 'J'], ['B', 'E', 'H', 'K'], ['C', 'F', 'I', 'L']]
right_side = {'D', 'G', 'H', 'I', 'K'}
for ri in range(3):
    for ci in range(4):
        t = letters[ri][ci]
        if t in right_side:
            axs[ri][ci].text(0.93, 0.91, t, transform=axs[ri][ci].transAxes, ha='right', va='top',
                             fontsize=9, fontweight='bold', zorder=10)
        else:
            axs[ri][ci].text(0.05 if ci == 0 else 0.1, 0.91, t, transform=axs[ri][ci].transAxes, ha='left',
                             va='top', fontsize=9, fontweight='bold', zorder=10)

# titles
ty = 1 - 9 / 496
fig.text(75 / 788, ty, 'South', ha='left', va='center', fontsize=9, fontweight='bold')
fig.text(197 / 788, ty, 'America', ha='center', va='center', fontsize=9.5, fontweight='bold')
fig.text(326 / 788, ty, 'North', ha='right', va='center', fontsize=9, fontweight='bold')
fig.text(423 / 788, ty, 'Europe & Asia', ha='center', va='center', fontsize=9.5, fontweight='bold')
fig.text(520 / 788, ty, 'South', ha='left', va='center', fontsize=9, fontweight='bold')
fig.text(593 / 788, ty, 'Africa', ha='center', va='center', fontsize=9.5, fontweight='bold')
fig.text(669 / 788, ty, 'North', ha='right', va='center', fontsize=9, fontweight='bold')
fig.text(745 / 788, ty, 'Australia', ha='center', va='center', fontsize=9.5, fontweight='bold')

# y labels
fig.text(17 / 788, 1 - 95 / 496, 'SST (°C)', rotation=90, ha='center', va='center', fontsize=9)
fig.text(17 / 788, 1 - 262 / 496, 'Change in SST\n(°C year$^{-1}$)', rotation=90, ha='center', va='center',
         fontsize=9, multialignment='center')
fig.text(17 / 788, 1 - 400 / 496, 'Change in seasonality\n(°C year$^{-1}$)', rotation=90, ha='center',
         va='center', fontsize=9, multialignment='center')

# x labels
for ax, lab in zip(axs[2], ['Latitude (°S - °N)', 'Latitude (°N)', 'Latitude (°S - °N)', 'Latitude (°S)']):
    ax.set_xlabel(lab, fontsize=9, labelpad=10)

fig.savefig('out.png', dpi=100)
